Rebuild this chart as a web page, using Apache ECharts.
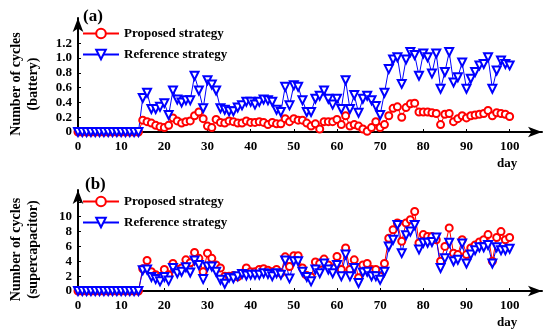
<!DOCTYPE html>
<html>
<head>
<meta charset="utf-8">
<script src="https://cdn.jsdelivr.net/npm/echarts@6/dist/echarts.min.js"></script>
<style>html,body{margin:0;padding:0;background:#fff;}#c{width:550px;height:336px;}</style>
</head>
<body>
<div id="c"></div>
<script>
const zeros15 = [0,0,0,0,0,0,0,0,0,0,0,0,0,0,0];
const batteryProposed = zeros15.concat([
  0.16,0.14,0.12,0.09,0.07,0.06,0.09,0.19,0.15,0.12,0.14,0.15,0.22,0.27,0.18,0.08,0.06,0.17,0.13,0.12,0.15,0.14,0.12,0.12,0.15,0.13,0.13,0.14,0.13,0.10,0.13,0.11,
  0.11,0.18,0.14,0.18,0.16,0.16,0.12,0.08,0.11,0.04,0.14,0.14,0.14,0.17,0.10,0.22,0.08,0.10,0.08,0.04,0.01,0.06,0.14,0.06,
  0.10,0.22,0.32,0.34,0.20,0.33,0.38,0.39,0.27,0.27,0.27,0.26,0.25,0.10,0.24,0.25,0.14,0.18,0.22,0.19,0.22,0.23,0.24,0.25,0.29,0.22,0.26,0.25,0.24,0.21]);
const batteryReference = zeros15.concat([
  0.46,0.53,0.31,0.31,0.34,0.39,0.23,0.56,0.44,0.40,0.43,0.43,0.76,0.56,0.32,0.70,0.64,0.56,0.32,0.30,0.28,0.28,0.33,0.36,0.41,0.41,0.37,0.41,0.44,0.43,0.41,0.30,
  0.27,0.61,0.36,0.63,0.61,0.43,0.27,0.27,0.45,0.49,0.56,0.45,0.37,0.45,0.31,0.70,0.31,0.50,0.26,0.45,0.49,0.43,0.35,0.23,
  0.53,0.85,0.98,1.01,0.65,0.98,1.08,1.04,0.76,1.06,1.01,0.79,1.06,0.585,0.81,1.08,0.67,0.74,0.94,0.585,0.72,0.81,0.90,0.92,1.01,0.585,0.83,0.965,0.92,0.90]);
const superProposed = zeros15.concat([
  3.0,4.1,2.6,2.2,1.9,2.9,2.2,3.7,2.9,3.1,4.2,3.8,5.2,4.4,2.6,5.1,4.4,3.5,3.1,2.0,2.0,2.1,1.9,2.4,3.1,2.6,2.6,2.9,3.0,2.8,2.6,2.9,
  2.4,4.6,3.3,4.75,4.75,3.1,2.1,1.9,3.9,3.7,4.3,3.5,3.1,4.65,2.9,5.8,2.9,4.2,1.8,3.5,3.7,2.9,2.9,2.0,
  3.7,7.1,8.25,9.15,6.7,9.15,9.6,10.7,6.46,7.6,7.35,7.35,6.9,4.0,6.0,8.5,5.1,4.9,6.9,4.9,5.8,6.2,6.6,6.9,7.6,4.0,7.2,8.0,6.9,7.2]);
const superReference = zeros15.concat([
  2.8,2.9,1.9,1.6,1.3,1.9,1.4,3.1,2.4,2.6,3.2,2.5,4.1,3.5,1.6,3.3,3.3,2.6,1.5,0.98,1.8,1.7,2.0,2.3,2.1,2.2,2.2,2.2,2.4,2.3,2.0,2.4,
  2.2,4.1,1.7,4.0,4.0,2.6,1.9,1.3,2.9,2.4,3.7,2.9,2.4,3.5,2.0,4.9,2.0,3.1,1.07,2.5,2.6,2.0,2.0,1.5,
  2.6,6.0,6.9,8.9,5.1,7.5,8.0,8.9,5.6,6.5,6.5,6.6,7.2,3.1,4.4,6.5,4.0,4.2,6.4,3.7,4.9,5.5,5.9,5.9,6.2,3.7,5.9,5.5,5.5,5.7]);
const days = batteryProposed.map((_, i) => i);
const xTicks = [0,10,20,30,40,50,60,70,80,90,100];
const yTicksA = [0,0.2,0.4,0.6,0.8,1.0,1.2];
const yTicksAminor = [0,0.2,0.4,0.6,0.8,1.0,1.2,1.4];
const yTicksB = [0,2,4,6,8,10];
const yTicksBminor = [0,2,4,6,8,10,12];
const names = ['Proposed strategy','Reference strategy'];
const yNameA = 'Number of cycles\n(battery)';
const yNameB = 'Number of cycles\n(supercapacitor)';

const RED = '#ff0000', BLUE = '#0000ff';
const FONT = 'Liberation Serif';
const pairs = arr => arr.map((v, i) => [days[i], v]);

function xAxisCfg(gi) {
  return {
    type: 'value', gridIndex: gi, min: 0, max: 107.5,
    axisLine: { show: true, lineStyle: { color: '#000', width: 2 }, symbol: ['none', 'arrow'], symbolSize: [8, 14] },
    axisTick: { show: true, inside: true, length: 3, lineStyle: { color: '#000', width: 1 }, customValues: xTicks },
    axisLabel: { customValues: xTicks, color: '#000', fontFamily: FONT, fontWeight: 'bold', fontSize: 13, margin: 8 },
    splitLine: { show: false },
    name: 'day', nameLocation: 'end', nameGap: -45,
    nameTextStyle: { color: '#000', fontFamily: FONT, fontWeight: 'bold', fontSize: 13, align: 'left', verticalAlign: 'top', padding: [25, 0, 0, 0] }
  };
}
function yAxisCfg(gi, max, labels, ticks, nm, fmt) {
  return {
    type: 'value', gridIndex: gi, min: 0, max: max,
    axisLine: { show: true, lineStyle: { color: '#000', width: 2 }, symbol: ['none', 'arrow'], symbolSize: [8, 14] },
    axisTick: { show: true, inside: true, length: 3, lineStyle: { color: '#000', width: 1 }, customValues: ticks },
    axisLabel: { customValues: labels, color: '#000', fontFamily: FONT, fontWeight: 'bold', fontSize: 13, margin: 6, formatter: fmt },
    splitLine: { show: false },
    name: nm, nameLocation: 'middle', nameRotate: 90, nameGap: 36,
    nameTextStyle: { color: '#000', fontFamily: FONT, fontWeight: 'bold', fontSize: 14, lineHeight: 17, padding: [0, 18, 0, 0] }
  };
}
function lineSeries(name, data, gi, isRef) {
  return {
    name: name, type: 'line', xAxisIndex: gi, yAxisIndex: gi, data: pairs(data),
    symbol: isRef ? 'emptyTriangle' : 'emptyCircle',
    symbolRotate: isRef ? 180 : 0,
    symbolSize: isRef ? 8 : 7,
    clip: false,
    lineStyle: { color: isRef ? BLUE : RED, width: 1 },
    itemStyle: { color: isRef ? BLUE : RED, borderColor: isRef ? BLUE : RED, borderWidth: 1.2 },
    emphasis: { disabled: true }, animation: false
  };
}
function legendCfg(top) {
  return {
    data: names, left: 82, top: top, padding: 0, orient: 'vertical', itemWidth: 36, itemHeight: 12, itemGap: 8,
    textStyle: { color: '#000', fontFamily: FONT, fontWeight: 'bold', fontSize: 13 },
    selectedMode: false
  };
}

const chart = echarts.init(document.getElementById('c'));
chart.setOption({
  animation: false,
  backgroundColor: '#fff',
  title: [
    { text: '(a)', left: 78, top: 3, textStyle: { color: '#000', fontFamily: FONT, fontWeight: 'bold', fontSize: 17 } },
    { text: '(b)', left: 80, top: 171, textStyle: { color: '#000', fontFamily: FONT, fontWeight: 'bold', fontSize: 17 } }
  ],
  legend: [legendCfg(27), legendCfg(195)],
  grid: [
    { left: 68, right: 8, top: 18, height: 114 },
    { left: 68, right: 8, top: 190, height: 101 }
  ],
  xAxis: [xAxisCfg(0), xAxisCfg(1)],
  yAxis: [
    yAxisCfg(0, 1.54, yTicksA, yTicksAminor, yNameA, v => (v === 0 ? '0' : v.toFixed(1))),
    yAxisCfg(1, 13.6, yTicksB, yTicksBminor, yNameB, v => String(v))
  ],
  series: [
    lineSeries(names[0], batteryProposed, 0, false),
    lineSeries(names[1], batteryReference, 0, true),
    lineSeries(names[0], superProposed, 1, false),
    lineSeries(names[1], superReference, 1, true)
  ]
});
</script>
</body>
</html>
